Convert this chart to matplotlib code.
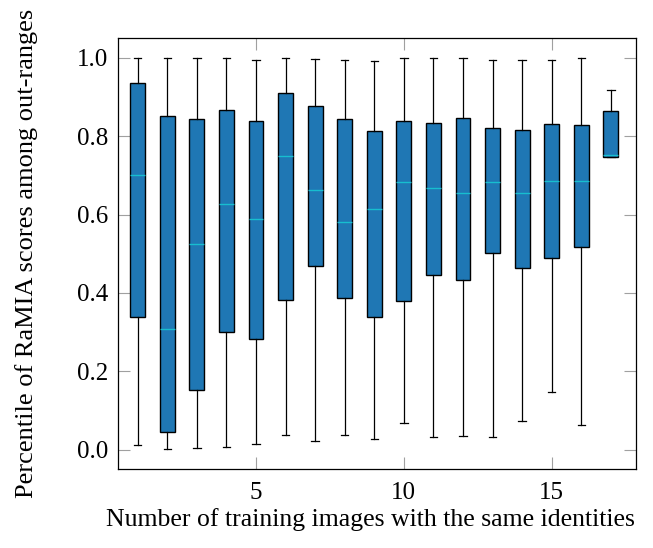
import numpy as np
import matplotlib.pyplot as plt

plt.rcParams['font.family'] = ['Liberation Serif', 'DejaVu Serif']

# number of training images with the same identities
positions = list(range(1, 18))

# box statistics
whis_hi = [1.000, 1.000, 1.000, 1.000, 0.996, 1.000, 0.997, 0.996, 0.993,
           1.000, 1.000, 1.000, 0.994, 0.995, 0.994, 0.999, 0.917]
q3 = [0.937, 0.852, 0.843, 0.866, 0.839, 0.910, 0.877, 0.845, 0.814,
      0.840, 0.833, 0.847, 0.821, 0.815, 0.832, 0.829, 0.864]
median = [0.700, 0.309, 0.524, 0.627, 0.589, 0.749, 0.663, 0.581, 0.614,
          0.683, 0.668, 0.654, 0.683, 0.655, 0.686, 0.687, 0.751]
q1 = [0.338, 0.044, 0.152, 0.300, 0.281, 0.382, 0.468, 0.388, 0.338,
      0.380, 0.446, 0.432, 0.503, 0.463, 0.489, 0.517, 0.747]
whis_lo = [0.012, 0.001, 0.005, 0.006, 0.015, 0.038, 0.023, 0.038, 0.027,
           0.068, 0.031, 0.035, 0.031, 0.073, 0.148, 0.062, 0.747]

stats = []
for i in range(len(positions)):
    stats.append(dict(whislo=whis_lo[i], q1=q1[i], med=median[i],
                      q3=q3[i], whishi=whis_hi[i], fliers=[]))

fig = plt.figure(figsize=(6.53, 5.48), dpi=100)
ax = fig.add_axes([0.181, 0.144, 0.7925, 0.786])

ax.bxp(stats, positions=positions, widths=0.5, patch_artist=True,
       boxprops=dict(facecolor='#1f77b4', edgecolor='black', linewidth=1.0),
       medianprops=dict(color='#17becf', linewidth=1.0),
       whiskerprops=dict(color='black', linewidth=0.9),
       capprops=dict(color='black', linewidth=0.9),
       showfliers=False)

ax.set_xlim(0.34, 17.84)
ax.set_ylim(-0.05, 1.05)
ax.set_xticks([5, 10, 15])
ax.set_xticklabels(['5', '10', '15'])
ax.set_yticks([0.0, 0.2, 0.4, 0.6, 0.8, 1.0])
ax.set_yticklabels(['0.0', '0.2', '0.4', '0.6', '0.8', '1.0'])
ax.tick_params(direction='in', length=8.5, width=0.8, color='#a0a0a0',
               top=True, right=True, labelsize=18)
ax.tick_params(axis='x', pad=9)
ax.tick_params(axis='y', pad=7)
for s in ax.spines.values():
    s.set_linewidth(0.9)

ax.set_xlabel('Number of training images with the same identities', fontsize=18.5, labelpad=3)
ax.xaxis.label.set_x(0.487)
ax.set_ylabel('Percentile of RaMIA scores among out-ranges', fontsize=19, labelpad=28)

fig.savefig('out.png', dpi=100)
